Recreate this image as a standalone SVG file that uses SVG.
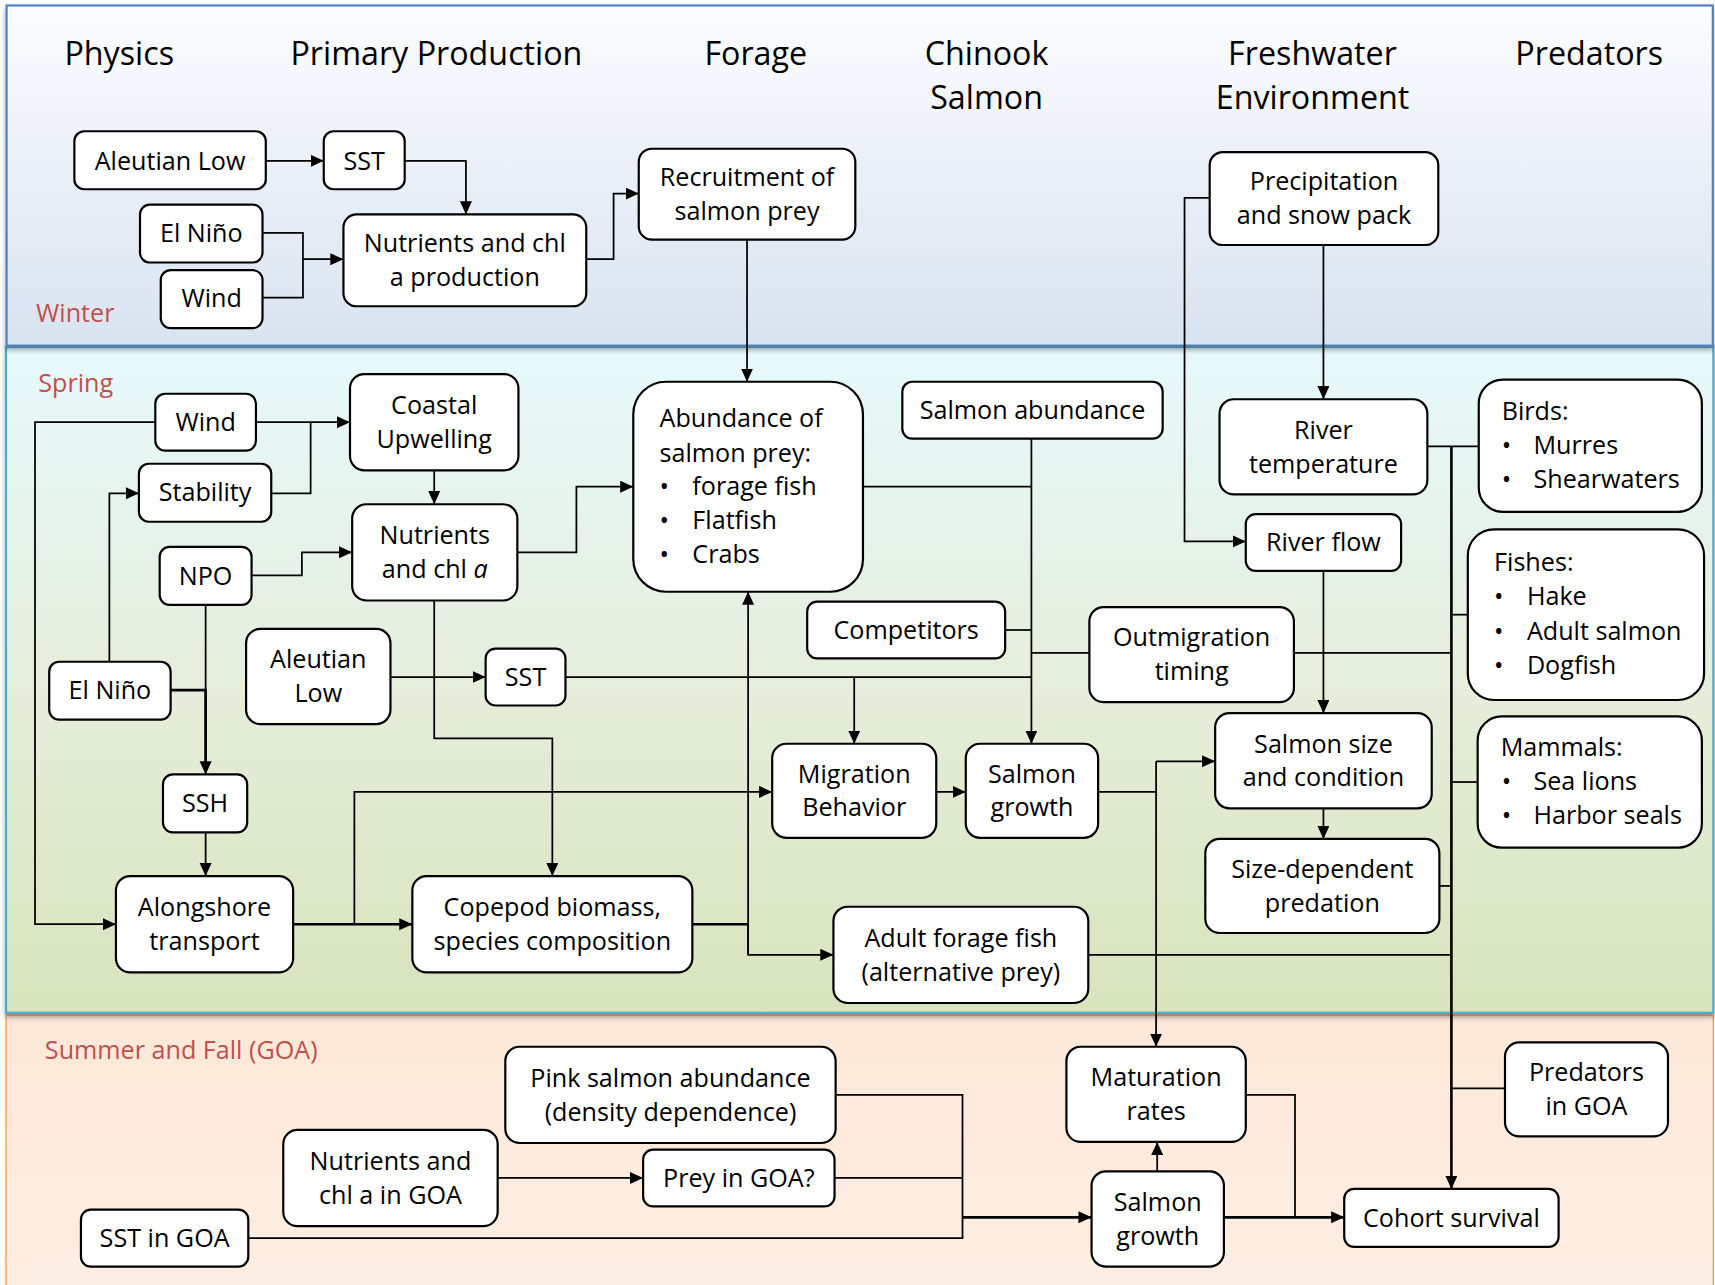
<svg xmlns="http://www.w3.org/2000/svg" width="1715" height="1285" viewBox="0 0 1715 1285">
<defs>
<linearGradient id="gWinter" x1="0" y1="0" x2="0" y2="1">
<stop offset="0" stop-color="#fbfcfe"/>
<stop offset="1" stop-color="#d9e3f0"/>
</linearGradient>
<linearGradient id="gSpring" x1="0" y1="0" x2="0" y2="1">
<stop offset="0" stop-color="#e7f9fc"/>
<stop offset="0.5" stop-color="#e6eedc"/>
<stop offset="1" stop-color="#d7e4bc"/>
</linearGradient>
<linearGradient id="gSummer" x1="0" y1="0" x2="0" y2="1">
<stop offset="0" stop-color="#fde8d8"/>
<stop offset="1" stop-color="#fdeee3"/>
</linearGradient>
<filter id="sh" x="-5%" y="-5%" width="110%" height="115%">
<feDropShadow dx="0" dy="3" stdDeviation="2.5" flood-color="#000" flood-opacity="0.35"/>
</filter>
<marker id="arr" markerUnits="userSpaceOnUse" markerWidth="13" markerHeight="12" refX="12" refY="5.5" orient="auto">
<path d="M0,0 L12,5.5 L0,11 z" fill="#000"/>
</marker>
<style>
.box{fill:#fff;stroke:#000;stroke-width:2}
.t{font-family:"Open Sans","Liberation Sans",sans-serif;font-size:23px;fill:#000;text-anchor:middle}
.l{text-anchor:start}
.h{font-size:29.5px}
.season{fill:#c0504d;text-anchor:start}
.c{fill:none;stroke:#000;stroke-width:1.6}
.k{stroke-width:2.4}
.a{marker-end:url(#arr)}
</style>
</defs>
<g transform="scale(1.09375)">
<!-- bands -->
<g id="bands">
<rect x="5.5" y="928" width="1561" height="252" fill="url(#gSummer)" stroke="#f79646" stroke-width="1.2"/>
<rect x="5.5" y="317" width="1561" height="609" fill="url(#gSpring)" stroke="#4bacc6" stroke-width="2" filter="url(#sh)"/>
<rect x="6" y="5" width="1560" height="311" fill="url(#gWinter)" stroke="#4f81bd" stroke-width="2" filter="url(#sh)"/>
</g>
<!-- headers -->
<g id="headers">
<text class="t h" x="109" y="59">Physics</text>
<text class="t h" x="399" y="59">Primary Production</text>
<text class="t h" x="691" y="59">Forage</text>
<text class="t h" x="902" y="59">Chinook</text>
<text class="t h" x="902" y="100">Salmon</text>
<text class="t h" x="1200" y="59">Freshwater</text>
<text class="t h" x="1200" y="100">Environment</text>
<text class="t h" x="1453" y="59">Predators</text>
<text class="t season" x="33" y="294">Winter</text>
<text class="t season" x="35" y="358">Spring</text>
<text class="t season" x="41" y="968">Summer and Fall (GOA)</text>
</g>
<!-- connectors -->
<g id="connectors">
<path class="c a" d="M243,147 H296"/>
<path class="c a" d="M370,147 H426 V196"/>
<path class="c" d="M240,213 H277 V272 H240"/>
<path class="c a" d="M277,237 H314"/>
<path class="c a" d="M536,237 H561 V177 H584"/>
<path class="c a" d="M683,219 V349"/>
<path class="c a" d="M1106,181 H1083 V495 H1139"/>
<path class="c a" d="M1210,224 V365"/>
<path class="c a" d="M142,386 H32 V845 H106"/>
<path class="c a" d="M234,386 H320"/>
<path class="c" d="M248,451 H284 V386"/>
<path class="c a" d="M100,605 V451 H127"/>
<path class="c a" d="M397,430 V461"/>
<path class="c a" d="M230,526 H276 V505 H322"/>
<path class="c a" d="M473,505 H527 V445 H579"/>
<path class="c a" d="M188,553 V708"/>
<path class="c k" d="M156,631 H188 V700"/>
<path class="c a" d="M188,761 V801"/>
<path class="c a" d="M357,619 H444"/>
<path class="c a" d="M397,549 V675 H505 V801"/>
<path class="c" d="M517,619 H943"/>
<path class="c a" d="M781,619 V680"/>
<path class="c a" d="M943,401 V680"/>
<path class="c" d="M789,445 H943"/>
<path class="c" d="M919,576 H943"/>
<path class="c" d="M996,597 H943"/>
<path class="c k a" d="M268,845 H377"/>
<path class="c a" d="M324,845 V724 H706"/>
<path class="c k" d="M633,845 H684"/>
<path class="c a" d="M684,845 V873 H762"/>
<path class="c a" d="M684,873 V541"/>
<path class="c a" d="M856,724 H883"/>
<path class="c" d="M1004,724 H1057"/>
<path class="c a" d="M1057,696 V957"/>
<path class="c a" d="M1057,696 H1111"/>
<path class="c a" d="M1210,522 V652"/>
<path class="c" d="M1183,597 H1327"/>
<path class="c a" d="M1210,739 V767"/>
<path class="c" d="M1305,408 H1352"/>
<path class="c k a" d="M1327,408 V1087"/>
<path class="c" d="M1342,562 H1327"/>
<path class="c" d="M1351,715 H1327"/>
<path class="c" d="M1316,810 H1327"/>
<path class="c" d="M995,873 H1327"/>
<path class="c" d="M1376,995 H1327"/>
<path class="c" d="M764,1001 H880 V1132 H227"/>
<path class="c" d="M763,1077 H880"/>
<path class="c k a" d="M880,1113 H998"/>
<path class="c a" d="M455,1077 H588"/>
<path class="c a" d="M1058,1071 V1044"/>
<path class="c k a" d="M1119,1113 H1229"/>
<path class="c" d="M1139,1001 H1184 V1113"/>
</g>
<!-- winter nodes -->
<g id="aleutian-winter"><rect class="box" x="68" y="120" width="175" height="53" rx="9"/><text class="t" x="155.5" y="155">Aleutian Low</text></g>
<g id="sst-winter"><rect class="box" x="296" y="120" width="74" height="53" rx="9"/><text class="t" x="333" y="155">SST</text></g>
<g id="elnino-winter"><rect class="box" x="128" y="187" width="112" height="53" rx="9"/><text class="t" x="184" y="221">El Niño</text></g>
<g id="wind-winter"><rect class="box" x="147" y="247" width="93" height="53" rx="9"/><text class="t" x="193.5" y="281">Wind</text></g>
<g id="nutrients-winter"><rect class="box" x="314" y="196" width="222" height="84" rx="12"/><text class="t" x="425" y="230.5">Nutrients and chl</text><text class="t" x="425" y="261.5">a production</text></g>
<g id="recruitment"><rect class="box" x="584" y="136" width="198" height="83" rx="12"/><text class="t" x="683" y="170">Recruitment of</text><text class="t" x="683" y="201">salmon prey</text></g>
<g id="precipitation"><rect class="box" x="1106" y="139" width="209" height="85" rx="12"/><text class="t" x="1210.5" y="174">Precipitation</text><text class="t" x="1210.5" y="205">and snow pack</text></g>
<!-- spring nodes -->
<g id="wind-spring"><rect class="box" x="142" y="360" width="92" height="52" rx="9"/><text class="t" x="188" y="394">Wind</text></g>
<g id="stability"><rect class="box" x="127" y="424" width="121" height="53" rx="9"/><text class="t" x="187.5" y="458.5">Stability</text></g>
<g id="coastal-upwelling"><rect class="box" x="320" y="342" width="154" height="88" rx="13"/><text class="t" x="397" y="378.5">Coastal</text><text class="t" x="397" y="409.5">Upwelling</text></g>
<g id="npo"><rect class="box" x="146" y="500" width="84" height="53" rx="9"/><text class="t" x="188" y="534.5">NPO</text></g>
<g id="nutrients-spring"><rect class="box" x="322" y="461" width="151" height="88" rx="13"/><text class="t" x="397.5" y="497.5">Nutrients</text><text class="t" x="397.5" y="528.5">and chl <tspan font-style="italic">a</tspan></text></g>
<g id="abundance-prey"><rect class="box" x="579" y="349" width="210" height="192" rx="30"/>
<text class="t l" x="603" y="390">Abundance of</text><text class="t l" x="603" y="422">salmon prey:</text>
<text class="t l" x="603" y="453">•</text><text class="t l" x="633" y="453">forage fish</text>
<text class="t l" x="603" y="484">•</text><text class="t l" x="633" y="484">Flatfish</text>
<text class="t l" x="603" y="515">•</text><text class="t l" x="633" y="515">Crabs</text></g>
<g id="salmon-abundance"><rect class="box" x="825" y="349" width="238" height="52" rx="9"/><text class="t" x="944" y="383">Salmon abundance</text></g>
<g id="river-temperature"><rect class="box" x="1115" y="365" width="190" height="87" rx="13"/><text class="t" x="1210" y="401">River</text><text class="t" x="1210" y="432">temperature</text></g>
<g id="birds"><rect class="box" x="1352" y="347" width="204" height="121" rx="22"/>
<text class="t l" x="1373" y="384">Birds:</text>
<text class="t l" x="1373" y="415">•</text><text class="t l" x="1402" y="415">Murres</text>
<text class="t l" x="1373" y="446">•</text><text class="t l" x="1402" y="446">Shearwaters</text></g>
<g id="river-flow"><rect class="box" x="1139" y="470" width="142" height="52" rx="9"/><text class="t" x="1210" y="504">River flow</text></g>
<g id="fishes"><rect class="box" x="1342" y="484" width="216" height="156" rx="24"/>
<text class="t l" x="1366" y="522">Fishes:</text>
<text class="t l" x="1366" y="553">•</text><text class="t l" x="1396" y="553">Hake</text>
<text class="t l" x="1366" y="585">•</text><text class="t l" x="1396" y="585">Adult salmon</text>
<text class="t l" x="1366" y="616">•</text><text class="t l" x="1396" y="616">Dogfish</text></g>
<g id="competitors"><rect class="box" x="738" y="550" width="181" height="52" rx="9"/><text class="t" x="828.5" y="584">Competitors</text></g>
<g id="outmigration-timing"><rect class="box" x="996" y="555" width="187" height="87" rx="13"/><text class="t" x="1089.5" y="591">Outmigration</text><text class="t" x="1089.5" y="622">timing</text></g>
<g id="elnino-spring"><rect class="box" x="45" y="605" width="111" height="53" rx="9"/><text class="t" x="100.5" y="639.5">El Niño</text></g>
<g id="aleutian-spring"><rect class="box" x="225" y="575" width="132" height="87" rx="13"/><text class="t" x="291" y="611">Aleutian</text><text class="t" x="291" y="642">Low</text></g>
<g id="sst-spring"><rect class="box" x="444" y="593" width="73" height="52" rx="9"/><text class="t" x="480.5" y="627">SST</text></g>
<g id="salmon-size"><rect class="box" x="1111" y="652" width="198" height="87" rx="13"/><text class="t" x="1210" y="688">Salmon size</text><text class="t" x="1210" y="719">and condition</text></g>
<g id="mammals"><rect class="box" x="1351" y="655" width="205" height="120" rx="22"/>
<text class="t l" x="1372" y="691">Mammals:</text>
<text class="t l" x="1373" y="722">•</text><text class="t l" x="1402" y="722">Sea lions</text>
<text class="t l" x="1373" y="753">•</text><text class="t l" x="1402" y="753">Harbor seals</text></g>
<g id="migration-behavior"><rect class="box" x="706" y="680" width="150" height="86" rx="13"/><text class="t" x="781" y="715.5">Migration</text><text class="t" x="781" y="746.5">Behavior</text></g>
<g id="salmon-growth-spring"><rect class="box" x="883" y="680" width="121" height="86" rx="13"/><text class="t" x="943.5" y="715.5">Salmon</text><text class="t" x="943.5" y="746.5">growth</text></g>
<g id="ssh"><rect class="box" x="149" y="708" width="77" height="53" rx="9"/><text class="t" x="187.5" y="742.5">SSH</text></g>
<g id="size-dependent-predation"><rect class="box" x="1102" y="767" width="214" height="86" rx="13"/><text class="t" x="1209" y="802.5">Size-dependent</text><text class="t" x="1209" y="833.5">predation</text></g>
<g id="alongshore-transport"><rect class="box" x="106" y="801" width="162" height="88" rx="13"/><text class="t" x="187" y="837.5">Alongshore</text><text class="t" x="187" y="868.5">transport</text></g>
<g id="copepod"><rect class="box" x="377" y="801" width="256" height="88" rx="13"/><text class="t" x="505" y="837.5">Copepod biomass,</text><text class="t" x="505" y="868.5">species composition</text></g>
<g id="adult-forage-fish"><rect class="box" x="762" y="829" width="233" height="88" rx="13"/><text class="t" x="878.5" y="865.5">Adult forage fish</text><text class="t" x="878.5" y="896.5">(alternative prey)</text></g>
<!-- summer nodes -->
<g id="pink-salmon"><rect class="box" x="462" y="957" width="302" height="88" rx="13"/><text class="t" x="613" y="993.5">Pink salmon abundance</text><text class="t" x="613" y="1024.5">(density dependence)</text></g>
<g id="maturation-rates"><rect class="box" x="975" y="957" width="164" height="87" rx="13"/><text class="t" x="1057" y="993">Maturation</text><text class="t" x="1057" y="1024">rates</text></g>
<g id="predators-goa"><rect class="box" x="1376" y="953" width="149" height="86" rx="13"/><text class="t" x="1450.5" y="988.5">Predators</text><text class="t" x="1450.5" y="1019.5">in GOA</text></g>
<g id="nutrients-goa"><rect class="box" x="259" y="1033" width="196" height="88" rx="13"/><text class="t" x="357" y="1069.5">Nutrients and</text><text class="t" x="357" y="1100.5">chl a in GOA</text></g>
<g id="prey-goa"><rect class="box" x="588" y="1051" width="175" height="52" rx="9"/><text class="t" x="675.5" y="1085">Prey in GOA?</text></g>
<g id="salmon-growth-goa"><rect class="box" x="998" y="1071" width="121" height="87" rx="13"/><text class="t" x="1058.5" y="1107">Salmon</text><text class="t" x="1058.5" y="1138">growth</text></g>
<g id="sst-goa"><rect class="box" x="74" y="1106" width="153" height="52" rx="9"/><text class="t" x="150.5" y="1140">SST in GOA</text></g>
<g id="cohort-survival"><rect class="box" x="1229" y="1087" width="196" height="53" rx="9"/><text class="t" x="1327" y="1121.5">Cohort survival</text></g>
</g>
</svg>
